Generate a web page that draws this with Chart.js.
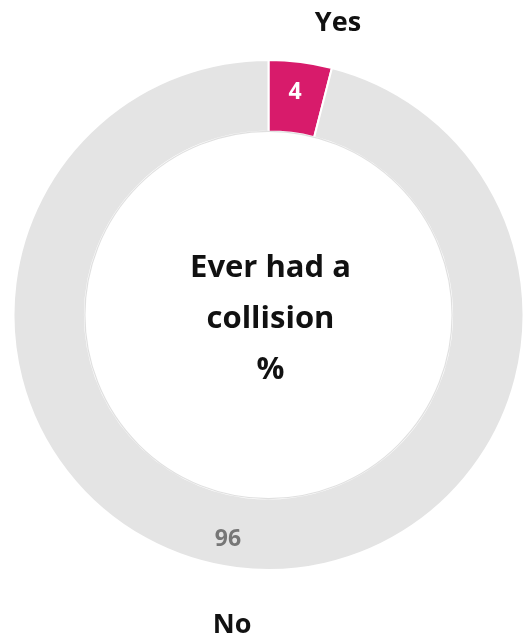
<!DOCTYPE html>
<html>
<head>
<meta charset="utf-8">
<script src="https://cdn.jsdelivr.net/npm/chart.js@4.4.0/dist/chart.umd.min.js"></script>
<style>
  html, body { margin: 0; padding: 0; background: #fff; }
  #wrap { width: 525px; height: 639px; }
</style>
</head>
<body>
<div id="wrap"><canvas id="collision-chart" width="525" height="639"></canvas></div>
<script>
const categories = ['Yes', 'No']
const percentages = [4, 96]
const sliceColors = ['#d81b6b', '#e4e4e4']
const valueColors = ['#ffffff', '#777777']
const centerLines = ['Ever had a', 'collision', '%']

const FONT = '"Open Sans", Lato, sans-serif'

// Nudges from each slice's mid point: value text and category name
const valueOffsets = [
  { dx: -1, dy: -5 },
  { dx: -13, dy: 7 }
]
const labelOffsets = [
  { dx: 42, dy: -74 },
  { dx: -9, dy: 93 }
]

const donutLabels = {
  id: 'donutLabels',
  afterDatasetsDraw (chart) {
    const { ctx } = chart
    const meta = chart.getDatasetMeta(0)
    ctx.save()
    ctx.textAlign = 'center'
    ctx.textBaseline = 'middle'

    meta.data.forEach((arc, i) => {
      const pos = arc.tooltipPosition()
      // value inside the slice
      ctx.font = 'bold 23px ' + FONT
      ctx.fillStyle = valueColors[i]
      ctx.fillText(percentages[i], pos.x + valueOffsets[i].dx, pos.y + valueOffsets[i].dy)
      // category outside
      ctx.font = 'bold 27px ' + FONT
      ctx.fillStyle = '#111'
      ctx.fillText(categories[i], pos.x + labelOffsets[i].dx, pos.y + labelOffsets[i].dy)
    })

    // faint edge round the hole
    const first = meta.data[0]
    ctx.beginPath()
    ctx.arc(first.x, first.y, first.innerRadius, 0, Math.PI * 2)
    ctx.strokeStyle = 'rgba(0,0,0,0.12)'
    ctx.lineWidth = 1.2
    ctx.stroke()

    // title in the middle
    ctx.font = 'bold 31px ' + FONT
    ctx.fillStyle = '#111'
    const lineGap = 51
    centerLines.forEach((line, i) => {
      ctx.fillText(line, first.x + 2, first.y - 47 + i * lineGap)
    })
    ctx.restore()
  }
}

const ctx = document.getElementById('collision-chart').getContext('2d')
new Chart(ctx, {
  type: 'doughnut',
  data: {
    labels: categories,
    datasets: [
      {
        data: percentages,
        backgroundColor: sliceColors,
        borderColor: '#ffffff',
        borderWidth: 2
      }
    ]
  },
  options: {
    responsive: false,
    animation: false,
    cutout: '72%',
    layout: { padding: { left: 12, right: 0, top: 59, bottom: 68 } },
    plugins: {
      legend: { display: false },
      tooltip: { enabled: false }
    }
  },
  plugins: [donutLabels]
})
</script>
</body>
</html>
